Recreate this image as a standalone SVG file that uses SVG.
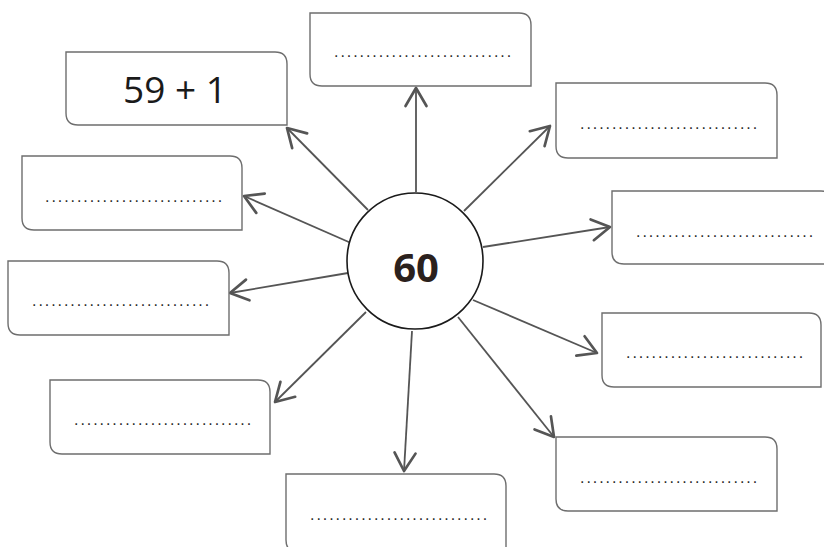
<svg xmlns="http://www.w3.org/2000/svg" width="824" height="547" viewBox="0 0 824 547">
<style>
.box{fill:#fff;stroke:#6e6e6e;stroke-width:1.4}
.dots{font-family:"Liberation Sans",Arial,sans-serif;font-size:16px;letter-spacing:1.95px;fill:#2a2a2a}
.conn line{stroke:#555;stroke-width:1.8;fill:none;marker-end:url(#arr)}
</style>
<defs>
<marker id="arr" markerUnits="userSpaceOnUse" markerWidth="30" markerHeight="30" viewBox="-15 -10 20 20" refX="0" refY="0" orient="auto">
<path d="M -12 -7 L 0 0 L -12 7" fill="none" stroke="#555" stroke-width="1.8" stroke-linecap="round" stroke-linejoin="round"/>
</marker>
</defs>
<rect width="824" height="547" fill="#fff"/>
<g id="connectors" class="conn">
<line x1="368" y1="210" x2="287" y2="128"/>
<line x1="416" y1="192" x2="416" y2="88"/>
<line x1="464" y1="211" x2="550" y2="126"/>
<line x1="483" y1="247" x2="610" y2="227"/>
<line x1="473" y1="300" x2="597" y2="353"/>
<line x1="458" y1="317" x2="554" y2="437"/>
<line x1="412" y1="331" x2="404" y2="471"/>
<line x1="366" y1="312" x2="275" y2="402"/>
<line x1="348" y1="273" x2="230" y2="293"/>
<line x1="351" y1="243" x2="244" y2="196"/>
</g>
<g id="n-59plus1">
<path class="box" d="M66 52 H275 Q287 52 287 64 V125 H78 Q66 125 66 113 Z"/>
<text x="175" y="103" text-anchor="middle" font-family="'Open Sans','Noto Sans',sans-serif" font-size="37" fill="#1a1a1a">59 + 1</text>
</g>
<g id="n-top">
<path class="box" d="M310 13 H519 Q531 13 531 25 V86 H322 Q310 86 310 74 Z"/>
<text class="dots" x="334" y="57">............................</text>
</g>
<g id="n-right1">
<path class="box" d="M556 83 H765 Q777 83 777 95 V158 H568 Q556 158 556 146 Z"/>
<text class="dots" x="580" y="129">............................</text>
</g>
<g id="n-right2">
<path class="box" d="M612 191 H821 Q833 191 833 203 V264 H624 Q612 264 612 252 Z"/>
<text class="dots" x="636" y="237">............................</text>
</g>
<g id="n-right3">
<path class="box" d="M602 313 H809 Q821 313 821 325 V387 H614 Q602 387 602 375 Z"/>
<text class="dots" x="626" y="358">............................</text>
</g>
<g id="n-right4">
<path class="box" d="M556 437 H765 Q777 437 777 449 V511 H568 Q556 511 556 499 Z"/>
<text class="dots" x="580" y="483">............................</text>
</g>
<g id="n-bottom">
<path class="box" d="M286 474 H494 Q506 474 506 486 V552 H298 Q286 552 286 540 Z"/>
<text class="dots" x="310" y="520">............................</text>
</g>
<g id="n-left3">
<path class="box" d="M50 380 H258 Q270 380 270 392 V454 H62 Q50 454 50 442 Z"/>
<text class="dots" x="74" y="425">............................</text>
</g>
<g id="n-left2">
<path class="box" d="M8 261 H217 Q229 261 229 273 V335 H20 Q8 335 8 323 Z"/>
<text class="dots" x="32" y="306">............................</text>
</g>
<g id="n-left1">
<path class="box" d="M22 156 H230 Q242 156 242 168 V230 H34 Q22 230 22 218 Z"/>
<text class="dots" x="45" y="202">............................</text>
</g>
<g id="n-center">
<circle cx="415" cy="261" r="68" fill="#fff" stroke="#1a1a1a" stroke-width="1.6"/>
<text x="416" y="282" text-anchor="middle" font-family="'Open Sans','Noto Sans',sans-serif" font-weight="bold" font-size="40" fill="#2b211d">60</text>
</g>
</svg>
